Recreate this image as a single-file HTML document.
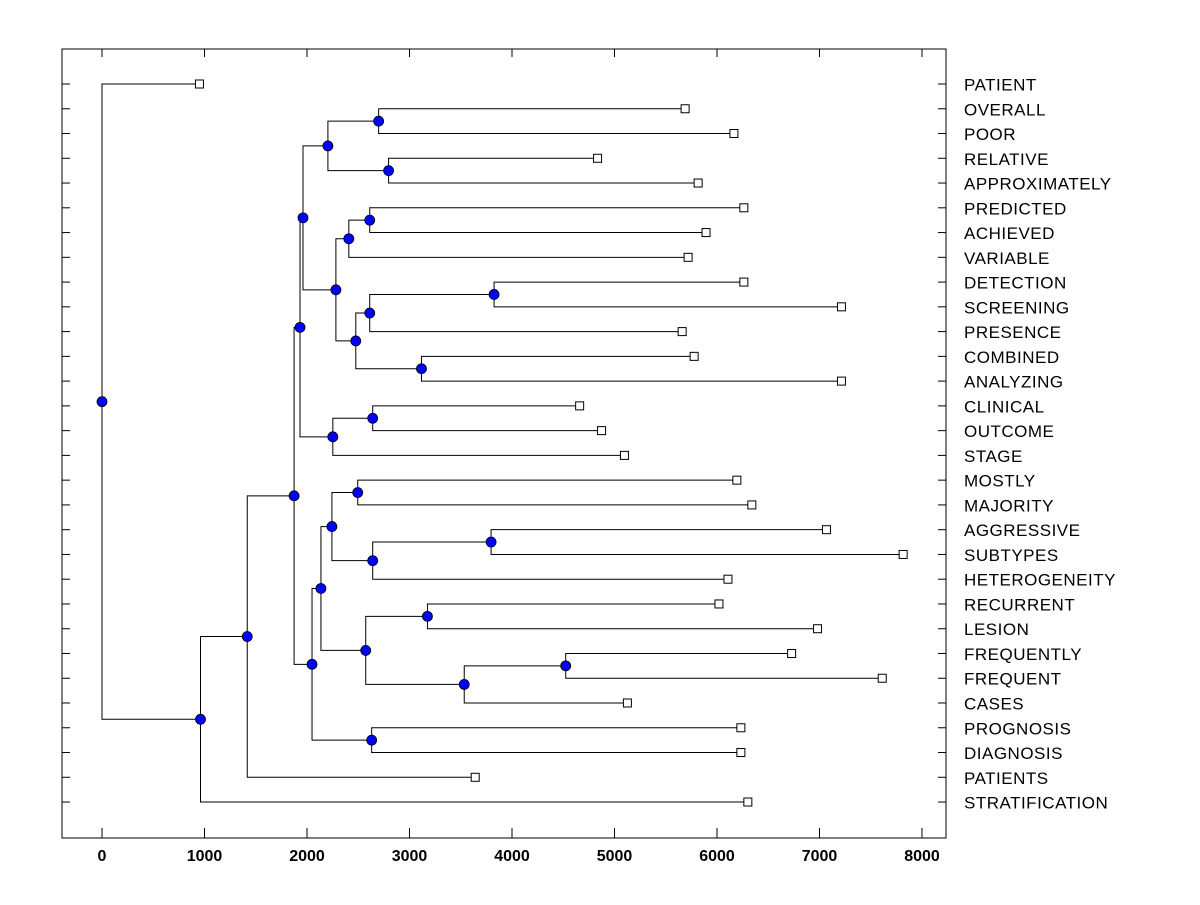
<!DOCTYPE html>
<html><head><meta charset="utf-8"><style>
body{margin:0;background:#fff}
text{font-family:"Liberation Sans",Arial,sans-serif;fill:#000}
</style></head><body>
<svg id="chart" width="1200" height="900" xmlns="http://www.w3.org/2000/svg"></svg>
<script>
const leafNames=["PATIENT","OVERALL","POOR","RELATIVE","APPROXIMATELY","PREDICTED","ACHIEVED","VARIABLE","DETECTION","SCREENING","PRESENCE","COMBINED","ANALYZING","CLINICAL","OUTCOME","STAGE","MOSTLY","MAJORITY","AGGRESSIVE","SUBTYPES","HETEROGENEITY","RECURRENT","LESION","FREQUENTLY","FREQUENT","CASES","PROGNOSIS","DIAGNOSIS","PATIENTS","STRATIFICATION"];
const leafHeights=[951,5689,6165,4835,5816,6262,5893,5718,6262,7214,5660,5777,7214,4660,4874,5097,6194,6340,7068,7816,6107,6019,6981,6728,7612,5126,6233,6233,3641,6301];
const mergeLeft=[1,3,30,5,33,8,35,11,36,34,32,13,41,40,16,18,45,44,21,23,49,48,47,26,52,43,55,56,0];
const mergeRight=[2,4,31,6,7,9,10,12,37,38,39,14,15,42,17,19,20,46,22,24,25,50,51,27,53,54,28,29,57];
const mergeHeights=[2699,2796,2204,2612,2408,3825,2612,3117,2476,2282,1961,2641,2252,1932,2495,3796,2641,2243,3175,4524,3534,2573,2136,2631,2049,1874,1417,961,0];
const xTicks=[0,1000,2000,3000,4000,5000,6000,7000,8000];

const svg=document.getElementById('chart');
const NS='http://www.w3.org/2000/svg';
const L=62,R=946,T=49,B=838;
const xs=v=>102+v*0.1025;
const ys=i=>84+i*24.76;
function mk(tag,attrs,parent){const e=document.createElementNS(NS,tag);for(const k in attrs)e.setAttribute(k,attrs[k]);(parent||svg).appendChild(e);return e;}

const frame=mk('rect',{x:L,y:T,width:R-L,height:B-T,fill:'none',stroke:'#000','stroke-width':1});



const n=leafNames.length;
const nodeX=[],nodeY=[];
for(let i=0;i<n;i++){nodeX.push(xs(leafHeights[i]));nodeY.push(ys(i));}
for(let m=0;m<mergeHeights.length;m++){
  const a=mergeLeft[m],b=mergeRight[m];
  nodeX.push(xs(mergeHeights[m]));nodeY.push((nodeY[a]+nodeY[b])/2);
}
const gl=mk('g',{stroke:'#000','stroke-width':1,fill:'none'});


for(let m=0;m<mergeHeights.length;m++){
  const id=n+m,a=mergeLeft[m],b=mergeRight[m],x=nodeX[id];
  const p=mk('path',{d:`M${nodeX[a]},${nodeY[a]}H${x}V${nodeY[b]}H${nodeX[b]}`},gl);
  
  
}
for(let m=0;m<mergeHeights.length;m++){
  const id=n+m;
  const c=mk('circle',{cx:nodeX[id],cy:nodeY[id],r:5,fill:'#0000ff',stroke:'#000','stroke-width':0.8});
  
  
}
for(let i=0;i<n;i++){
  const s=mk('rect',{x:nodeX[i]-4,y:nodeY[i]-4,width:8,height:8,fill:'#fff',stroke:'#000','stroke-width':1});
  
  
  const tl=mk('line',{x1:L,x2:L+8,y1:ys(i),y2:ys(i),stroke:'#000'});
  
  
  const tr=mk('line',{x1:R-8,x2:R,y1:ys(i),y2:ys(i),stroke:'#000'});
  
  
  const t=mk('text',{x:964,y:ys(i)+6.5,'font-size':17,'letter-spacing':0.5});
  t.textContent=leafNames[i];
  
  
}
xTicks.forEach(v=>{
  const x=xs(v);
  const b=mk('line',{x1:x,x2:x,y1:B-10,y2:B,stroke:'#000'});
  
  
  const t2=mk('line',{x1:x,x2:x,y1:T,y2:T+8,stroke:'#000'});
  
  
  const t=mk('text',{x:x,y:861,'font-size':16,'font-weight':'bold','text-anchor':'middle'});
  t.textContent=v;
  
  
});
</script>
</body></html>
